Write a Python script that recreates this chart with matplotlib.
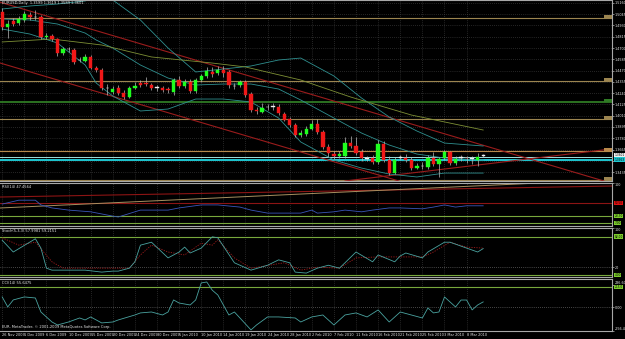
import numpy as np
import matplotlib
matplotlib.use("Agg")
import matplotlib.pyplot as plt
from matplotlib.patches import Rectangle
from matplotlib.transforms import blended_transform_factory

# ---- price data (EURUSD daily) ----
opens = [1.5068, 1.4915, 1.4976, 1.4955, 1.4986, 1.5037, 1.5017, 1.5017, 1.4813, 1.4823,
         1.4792, 1.4649, 1.4690, 1.4680, 1.4578, 1.4568, 1.4609, 1.4496, 1.4476, 1.4292,
         1.4252, 1.4292, 1.4241, 1.4201, 1.4292, 1.4343, 1.4343, 1.4323, 1.4292, 1.4292,
         1.4282, 1.4252, 1.4374, 1.4313, 1.4354, 1.4262, 1.4374, 1.4415, 1.4456, 1.4445,
         1.4476, 1.4456, 1.4313, 1.4323, 1.4354, 1.4231, 1.4068, 1.4048, 1.4099, 1.4099,
         1.4099, 1.4027, 1.3976, 1.3915, 1.3813, 1.3823, 1.3874, 1.3925, 1.3844, 1.3691,
         1.3619, 1.3599, 1.3599, 1.3731, 1.3701, 1.3640, 1.3568, 1.3578, 1.3538, 1.3721,
         1.3558, 1.3425, 1.3578, 1.3578, 1.3558, 1.3476, 1.3497, 1.3487, 1.3578, 1.3517,
         1.3578, 1.3640, 1.3527, 1.3578, 1.3580, 1.3570, 1.3558, 1.3599]
highs = [1.5108, 1.4986, 1.5006, 1.5027, 1.5078, 1.5068, 1.5088, 1.5037, 1.4853, 1.4843,
         1.4802, 1.4711, 1.4711, 1.4700, 1.4609, 1.4639, 1.4629, 1.4517, 1.4496, 1.4333,
         1.4313, 1.4323, 1.4272, 1.4313, 1.4354, 1.4374, 1.4405, 1.4343, 1.4323, 1.4313,
         1.4303, 1.4394, 1.4415, 1.4384, 1.4384, 1.4394, 1.4435, 1.4507, 1.4507, 1.4517,
         1.4517, 1.4476, 1.4343, 1.4374, 1.4374, 1.4252, 1.4099, 1.4139, 1.4129, 1.4139,
         1.4129, 1.4048, 1.3997, 1.3935, 1.3864, 1.3905, 1.3966, 1.3976, 1.3864, 1.3721,
         1.3650, 1.3650, 1.3793, 1.3803, 1.3793, 1.3670, 1.3599, 1.3609, 1.3762, 1.3752,
         1.3599, 1.3589, 1.3609, 1.3619, 1.3589, 1.3527, 1.3538, 1.3609, 1.3640, 1.3589,
         1.3660, 1.3650, 1.3599, 1.3609, 1.3599, 1.3599, 1.3629, 1.3619]
lows = [1.4884, 1.4802, 1.4925, 1.4935, 1.4966, 1.4986, 1.4986, 1.4792, 1.4792, 1.4772,
        1.4619, 1.4629, 1.4660, 1.4537, 1.4558, 1.4558, 1.4486, 1.4456, 1.4272, 1.4221,
        1.4231, 1.4221, 1.4180, 1.4190, 1.4282, 1.4303, 1.4313, 1.4272, 1.4262, 1.4252,
        1.4241, 1.4221, 1.4292, 1.4292, 1.4241, 1.4241, 1.4354, 1.4394, 1.4405, 1.4425,
        1.4405, 1.4292, 1.4282, 1.4303, 1.4201, 1.4048, 1.4027, 1.4037, 1.4068, 1.4068,
        1.4017, 1.3956, 1.3895, 1.3793, 1.3793, 1.3803, 1.3864, 1.3823, 1.3670, 1.3589,
        1.3568, 1.3578, 1.3578, 1.3680, 1.3609, 1.3548, 1.3548, 1.3517, 1.3517, 1.3538,
        1.3405, 1.3415, 1.3558, 1.3538, 1.3456, 1.3466, 1.3466, 1.3466, 1.3497, 1.3385,
        1.3558, 1.3507, 1.3507, 1.3548, 1.3527, 1.3517, 1.3497, 1.3589]
closes = [1.4915, 1.4945, 1.4945, 1.4996, 1.5047, 1.5017, 1.5014, 1.4813, 1.4823, 1.4792,
          1.4649, 1.4690, 1.4688, 1.4558, 1.4576, 1.4609, 1.4496, 1.4476, 1.4292, 1.4290,
          1.4282, 1.4241, 1.4201, 1.4292, 1.4313, 1.4323, 1.4333, 1.4292, 1.4294, 1.4272,
          1.4272, 1.4374, 1.4313, 1.4354, 1.4262, 1.4374, 1.4415, 1.4466, 1.4435, 1.4476,
          1.4445, 1.4323, 1.4311, 1.4354, 1.4221, 1.4068, 1.4058, 1.4088, 1.4097, 1.4101,
          1.4037, 1.3966, 1.3915, 1.3813, 1.3834, 1.3874, 1.3925, 1.3844, 1.3691, 1.3629,
          1.3599, 1.3619, 1.3731, 1.3701, 1.3629, 1.3578, 1.3570, 1.3538, 1.3721, 1.3558,
          1.3425, 1.3558, 1.3580, 1.3558, 1.3476, 1.3497, 1.3495, 1.3578, 1.3517, 1.3568,
          1.3640, 1.3527, 1.3568, 1.3580, 1.3576, 1.3572, 1.3589, 1.3601]

date_labels = ["26 Nov 2009", "1 Dec 2009", "6 Dec 2009", "10 Dec 2009", "15 Dec 2009",
               "20 Dec 2009", "24 Dec 2009", "30 Dec 2009", "5 Jan 2010", "10 Jan 2010",
               "14 Jan 2010", "19 Jan 2010", "24 Jan 2010", "28 Jan 2010", "2 Feb 2010",
               "7 Feb 2010", "11 Feb 2010", "16 Feb 2010", "21 Feb 2010", "25 Feb 2010",
               "3 Mar 2010", "8 Mar 2010"]
price_ticks = [1.5160, 1.5045, 1.4930, 1.4815, 1.4700, 1.4585, 1.4470, 1.4355, 1.4240,
               1.4125, 1.4010, 1.3895, 1.3780, 1.3665, 1.3550, 1.3435]

# bollinger bands (read at a few bars)
bb_bars = [0, 5, 10, 15, 17, 20, 25, 30, 35, 40, 45, 50, 54, 60, 65, 70, 75, 80, 87]
bb_upper = [1.5098, 1.5129, 1.5149, 1.5180, 1.5221, 1.5190, 1.4986, 1.4700, 1.4456, 1.4486,
            1.4517, 1.4578, 1.4598, 1.4415, 1.4190, 1.3997, 1.3854, 1.3731, 1.3701]
bb_mid = [1.4996, 1.4986, 1.4945, 1.4853, 1.4782, 1.4700, 1.4527, 1.4394, 1.4323, 1.4333,
          1.4333, 1.4282, 1.4170, 1.3986, 1.3833, 1.3711, 1.3619, 1.3578, 1.3558]
bb_lower = [1.4894, 1.4843, 1.4751, 1.4527, 1.4343, 1.4211, 1.4058, 1.4078, 1.4180, 1.4180,
            1.4150, 1.3986, 1.3742, 1.3558, 1.3476, 1.3415, 1.3385, 1.3425, 1.3425]

ma_bars = [0, 9, 18, 27, 38, 44, 54, 63, 74, 87]
ma_vals = [1.4762, 1.4792, 1.4731, 1.4609, 1.4547, 1.4507, 1.4374, 1.4201, 1.4017, 1.3864]

# horizontal levels drawn on the chart
level_prices = [1.5006, 1.4364, 1.4150, 1.3976, 1.3650, 1.3354]
level_colors = ["#9c8550", "#9c8550", "#2f7a24", "#9c8550", "#b8894a", "#9c8550"]

# trend lines: two points each (bar, price)
channel_top = [(0, 1.5161), (105, 1.3408)]
channel_bot = [(0, 1.4541), (60, 1.3540)]
rising_line = [(62, 1.3344), (108, 1.3656)]

# RSI
rsi_bars = [0, 3, 6, 7, 9, 12, 16, 20, 21, 25, 30, 32, 36, 39, 43, 45, 48, 54, 56, 57,
            60, 62, 65, 67, 70, 72, 76, 78, 80, 82, 84, 87]
rsi_vals = [51, 60, 60, 49, 42, 37, 33, 23, 21, 37, 37, 42, 49, 49, 44, 37, 30, 30, 37, 30,
            33, 37, 33, 37, 42, 42, 40, 44, 49, 44, 47, 47]
rsi_red_line = [(0, 67.5), (100, 90.6)]
rsi_tan_line = [(0, 42.1), (80, 89.8)]

# Stochastic
sto_bars = [0, 2, 6, 7, 8, 9, 15, 18, 20, 21, 23, 24, 25, 27, 30, 32, 33, 34, 36, 38, 39, 42,
            45, 48, 50, 52, 53, 55, 57, 59, 61, 64, 67, 68, 71, 72, 73, 76, 77, 80, 81, 84, 86, 87]
sto_vals = [75, 51, 78, 59, 18, 14, 14, 10, 12, 12, 18, 31, 65, 71, 39, 51, 61, 49, 59, 82, 80, 29,
            14, 24, 35, 29, 10, 8, 18, 24, 18, 51, 31, 45, 31, 43, 49, 39, 51, 71, 71, 59, 51, 58]
sig_bars = [0, 3, 6, 9, 11, 23, 25, 27, 30, 33, 36, 38, 39, 42, 45, 51, 54, 57, 61, 64, 68, 72,
            76, 78, 81, 84, 87]
sig_vals = [80, 65, 71, 31, 18, 18, 45, 65, 51, 45, 69, 65, 76, 39, 18, 29, 14, 20, 18, 39, 41, 41,
            41, 51, 71, 61, 59]

# CCI
cci_bars = [0, 1, 2, 4, 6, 7, 9, 10, 12, 14, 15, 16, 18, 20, 21, 24, 25, 27, 29, 30, 31, 32, 34,
            35, 36, 37, 38, 39, 40, 41, 42, 43, 45, 46, 48, 50, 53, 54, 56, 58, 60, 62, 64, 66,
            68, 70, 72, 74, 76, 77, 78, 79, 80, 82, 83, 84, 85, 86, 87]
cci_vals = [108, 1, 76, 108, 97, -53, -160, -192, -160, -117, -138, -106, -170, -160, -138, -85,
            -63, -53, -85, -53, 76, 43, 22, 76, 258, 268, 180, 129, 22, -85, -53, -117, -245,
            -192, -106, -106, -117, -160, -106, -85, -192, -85, -63, -106, -31, -160, -53, -85,
            -117, -10, -63, -53, 108, 1, 75, 75, -31, 22, 55]

# ---- figure ----
W, H = 625, 339
fig = plt.figure(figsize=(W / 100, H / 100), dpi=100, facecolor="black")

GRID = "#4a4a4a"
TXT = "#e8e8e8"
FS = 2.6
XLIM = (-0.4, 110.3)
tick_pos = list(range(0, 4 * len(date_labels), 4))


def panel(top, bottom):
    ax = fig.add_axes([0, 1 - bottom / H, 612 / W, (bottom - top) / H])
    ax.set_facecolor("black")
    ax.set_xlim(*XLIM)
    for s in ["top", "bottom", "right"]:
        ax.spines[s].set_color("#a8a8a8")
        ax.spines[s].set_linewidth(0.8)
    ax.spines["left"].set_visible(False)
    ax.yaxis.tick_right()
    ax.tick_params(axis="y", colors=TXT, labelsize=2.4, length=1.2, width=0.4, pad=0.8)
    ax.set_xticks(tick_pos)
    ax.tick_params(axis="x", length=0, labelbottom=False)
    ax.grid(axis="x", color=GRID, linestyle=(0, (1, 2)), linewidth=0.5)
    return ax


def axis_box(ax, y, text, fc):
    tr = blended_transform_factory(ax.transAxes, ax.transData)
    ax.text(1.004, y, text, transform=tr, fontsize=2.1, color="black", va="center",
            ha="left", clip_on=False, zorder=10,
            bbox=dict(boxstyle="square,pad=0.12", fc=fc, ec="none"))


main = panel(0, 181)
rsi = panel(183, 226)
sto = panel(228, 277)
cci = panel(279, 331)

# ---- main chart ----
main.set_ylim(1.3344, 1.5190)
main.set_yticks(price_ticks)
main.set_yticklabels(["" if p == 1.3550 else f"{p:.4f}" for p in price_ticks])
main.grid(axis="y", color=GRID, linestyle=(0, (1, 2)), linewidth=0.5)

for lvl, col in zip(level_prices, level_colors):
    lw = 1.3 if col == "#2f7a24" else 0.8
    main.axhline(lvl, color=col, lw=lw, zorder=2)
    main.add_patch(Rectangle((108.9, lvl), 1.4, 0.0030, fc=col, ec="none", zorder=6))

main.axhline(1.3589, color="#9fdede", lw=0.7, zorder=2)
main.axhline(1.3563, color="#1ec8d2", lw=1.4, zorder=2)

main.axline(*channel_top, color="#9a1c1c", lw=0.8, zorder=2)
main.axline(*channel_bot, color="#9a1c1c", lw=0.8, zorder=2)
main.axline(*rising_line, color="#9a1c1c", lw=0.8, zorder=2)

main.plot(bb_bars, bb_upper, color="#2f8f8f", lw=0.6, zorder=2)
main.plot(bb_bars, bb_mid, color="#2f8f8f", lw=0.6, zorder=2)
main.plot(bb_bars, bb_lower, color="#2f8f8f", lw=0.6, zorder=2)
main.plot(ma_bars, ma_vals, color="#7d8f35", lw=0.6, zorder=2)

o = np.array(opens)
c = np.array(closes)
x = np.arange(len(o))
main.vlines(x, lows, highs, color="#b8b8b8", lw=0.5, zorder=3)
body_colors = []
for oo, cc in zip(o, c):
    if abs(cc - oo) < 0.0004:
        body_colors.append("#f0f0f0")
    elif cc > oo:
        body_colors.append("#1eff1e")
    else:
        body_colors.append("#f01818")
main.bar(x, np.maximum(np.abs(c - o), 0.0006), bottom=np.minimum(o, c), width=0.6,
         color=body_colors, edgecolor=body_colors, lw=0.3, zorder=4)

axis_box(main, 1.3609, "1.3601", "#f0f0f0")
axis_box(main, 1.3563, "1.3563", "#1ec8d2")

main.text(0.003, 0.993, "EURUSD,Daily  1.3599 1.3619 1.3589 1.3601", transform=main.transAxes,
          fontsize=FS, color=TXT, va="top", ha="left")

# ---- RSI ----
rsi.set_ylim(0, 100)
rsi.set_yticks([100])
rsi.set_yticklabels(["100"], va="top")
rsi.axhline(53.5, color="#8c1414", lw=0.8)
rsi.axhline(23.3, color="#78a83c", lw=0.8)
rsi.axhline(7, color="#78a83c", lw=0.8)
rsi.axline(*rsi_red_line, color="#8c1414", lw=0.8)
rsi.axline(*rsi_tan_line, color="#a89060", lw=0.7)
rsi.plot(rsi_bars, rsi_vals, color="#3a55b8", lw=0.6)
axis_box(rsi, 53.5, "53.50", "#e01010")
axis_box(rsi, 23.3, "23.30", "#7ccc2c")
axis_box(rsi, 7, "7.00", "#7ccc2c")
rsi.text(0.003, 0.96, "RSI(14) 47.4564", transform=rsi.transAxes, fontsize=FS,
         color=TXT, va="top", ha="left")

# ---- Stochastic ----
sto.set_ylim(0, 100)
sto.set_yticks([100, 20])
sto.set_yticklabels(["100", "20"])
sto.get_yticklabels()[0].set_va("top")
sto.axhline(20, color="#8a8a8a", lw=0.5, linestyle=(0, (1, 2)))
sto.axhline(82, color="#78a83c", lw=0.8)
sto.axhline(4, color="#78a83c", lw=0.8)
sto.plot(sig_bars, sig_vals, color="#a01c1c", lw=0.6, linestyle=(0, (1.5, 1.5)))
sto.plot(sto_bars, sto_vals, color="#4aa3a0", lw=0.6)
axis_box(sto, 82, "82.00", "#7ccc2c")
axis_box(sto, 4, "4.00", "#7ccc2c")
sto.text(0.003, 0.97, "Stoch(5,3,3) 57.9981 59.2151", transform=sto.transAxes, fontsize=FS,
         color=TXT, va="top", ha="left")

# ---- CCI ----
cci.set_ylim(-256.4, 300)
cci.set_yticks([236.6, 0, -256.4])
cci.set_yticklabels(["236.60", "0.00", "-256.4"])
cci.get_yticklabels()[0].set_va("bottom")
cci.get_yticklabels()[2].set_va("bottom")
cci.axhline(0, color="#8a8a8a", lw=0.5, linestyle=(0, (1, 2)))
cci.axhline(215, color="#78a83c", lw=0.8)
cci.plot(cci_bars, cci_vals, color="#4aa3a0", lw=0.6)
axis_box(cci, 215, "215.0", "#7ccc2c")
cci.text(0.003, 0.96, "CCI(14) 55.6475", transform=cci.transAxes, fontsize=FS,
         color=TXT, va="top", ha="left")
cci.text(0.003, 0.03, "EUR, MetaTrader, \u00a9 2001-2009 MetaQuotes Software Corp.",
         transform=cci.transAxes, fontsize=FS, color=TXT, va="bottom", ha="left")

cci.tick_params(axis="x", labelbottom=True, colors=TXT, labelsize=2.5, pad=1.2)
cci.set_xticklabels(date_labels, ha="left")

fig.savefig("out.png", dpi=100, facecolor="black")
